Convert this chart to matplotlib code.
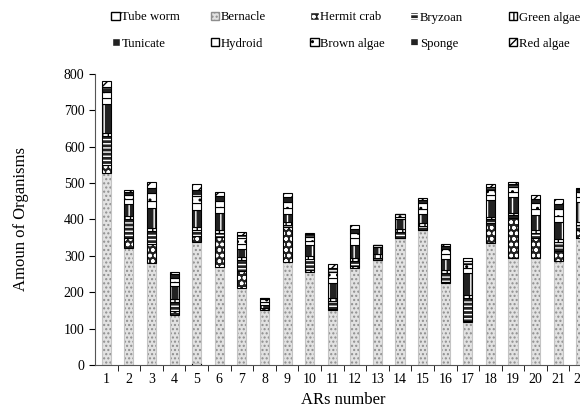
import numpy as np
import matplotlib
matplotlib.use('Agg')
import matplotlib.pyplot as plt
from matplotlib.patches import Patch

plt.rcParams['font.family'] = 'Liberation Serif'
plt.rcParams['hatch.linewidth'] = 1.0

ars = np.arange(1, 23)

# organisms counted on each AR, stacked bottom to top
tube_worm   = [0, 0, 0, 0, 5, 0, 0, 0, 0, 0, 0, 0, 0, 0, 0, 0, 0, 0, 0, 0, 0, 0]
bernacle    = [527, 322, 280, 138, 333, 270, 212, 152, 283, 256, 152, 268, 290, 350, 372, 225, 117, 335, 293, 293, 287, 350]
hermit_crab = [22, 28, 52, 10, 18, 82, 46, 5, 95, 5, 3, 5, 0, 0, 0, 3, 5, 55, 110, 55, 27, 20]
bryzoan     = [80, 52, 35, 25, 14, 10, 30, 0, 8, 30, 20, 14, 5, 15, 10, 25, 62, 10, 8, 15, 25, 15]
green_algae = [10, 8, 10, 8, 10, 8, 8, 0, 6, 8, 10, 8, 10, 10, 8, 8, 8, 8, 8, 8, 8, 8]
tunicate    = [78, 33, 55, 35, 45, 47, 22, 8, 22, 30, 40, 35, 20, 25, 25, 30, 60, 45, 42, 40, 45, 55]
hydroid     = [18, 12, 20, 12, 20, 18, 15, 8, 18, 12, 15, 18, 5, 8, 15, 15, 15, 15, 15, 18, 18, 15]
brown_algae = [15, 12, 20, 12, 20, 15, 15, 8, 15, 10, 15, 15, 0, 7, 15, 12, 12, 12, 12, 15, 18, 12]
sponge      = [15, 8, 15, 10, 15, 15, 10, 4, 15, 8, 12, 12, 0, 0, 8, 10, 8, 10, 10, 13, 15, 8]
red_algae   = [15, 6, 15, 7, 18, 10, 8, 0, 10, 4, 10, 9, 0, 0, 5, 5, 6, 7, 6, 10, 12, 4]

names = ['Tube worm', 'Bernacle', 'Hermit crab', 'Bryzoan', 'Green algae',
         'Tunicate', 'Hydroid', 'Brown algae', 'Sponge', 'Red algae']
series = [tube_worm, bernacle, hermit_crab, bryzoan, green_algae,
          tunicate, hydroid, brown_algae, sponge, red_algae]

faces   = ['white', '#e2e2e2', '#222222', '#222222', 'white',
           '#222222', 'white', 'white', '#222222', 'white']
hatches = [None, '....', 'ooo', '----', '|||',
           '||', None, '..', '--', '///']
hcolors = ['black', '#8e8e8e', 'white', 'white', 'black',
           'white', 'black', 'black', 'white', 'black']
borders = ['black', '#c4c4c4', 'black', 'black', 'black',
           'black', 'black', 'black', 'black', 'black']

fig = plt.figure(figsize=(5.8, 4.11), dpi=100)
ax = fig.add_axes([0.1638, 0.1119, 0.857, 0.7081])

w = 0.4
bottom = np.zeros(len(ars))
for vals, fc, h, hc, bc in zip(series, faces, hatches, hcolors, borders):
    vals = np.array(vals, dtype=float)
    ax.bar(ars, vals, w, bottom=bottom, color=fc, hatch=h, edgecolor=hc, linewidth=0)
    ax.bar(ars, vals, w, bottom=bottom, fill=False, edgecolor=bc, linewidth=0.8)
    bottom += vals

ax.set_xlim(0.5, 22.5)
ax.set_ylim(0, 800)
ax.set_yticks(range(0, 801, 100))
ax.set_xticks(ars)
ax.set_xticks(ars[:-1] + 0.5, minor=True)
ax.tick_params(axis='x', which='major', length=0, pad=6, labelsize=10)
ax.tick_params(axis='x', which='minor', length=4, direction='out')
ax.tick_params(axis='y', length=4, direction='out', labelsize=10)
ax.spines['top'].set_visible(False)
ax.spines['right'].set_visible(False)
for s in ('left', 'bottom'):
    ax.spines[s].set_color('#555555')

ax.set_xlabel('ARs number', fontsize=12, labelpad=4)
ax.set_ylabel('Amoun of Organisms', fontsize=12, labelpad=25)

# legend: five evenly spaced columns of two rows
handles = [Patch(facecolor=fc, hatch=h, edgecolor=hc if h else 'black')
           for fc, h, hc in zip(faces, hatches, hcolors)]
for c in range(5):
    idx = [c, c + 5]
    fig.legend([handles[i] for i in idx], [names[i] for i in idx],
               loc='upper left', bbox_to_anchor=(0.172 + c * 0.1715, 1.0),
               frameon=False, fontsize=9.2, handlelength=0.65, handleheight=0.65,
               handletextpad=0.15, labelspacing=1.1, borderpad=0.4)

fig.savefig('out.png', dpi=100)
